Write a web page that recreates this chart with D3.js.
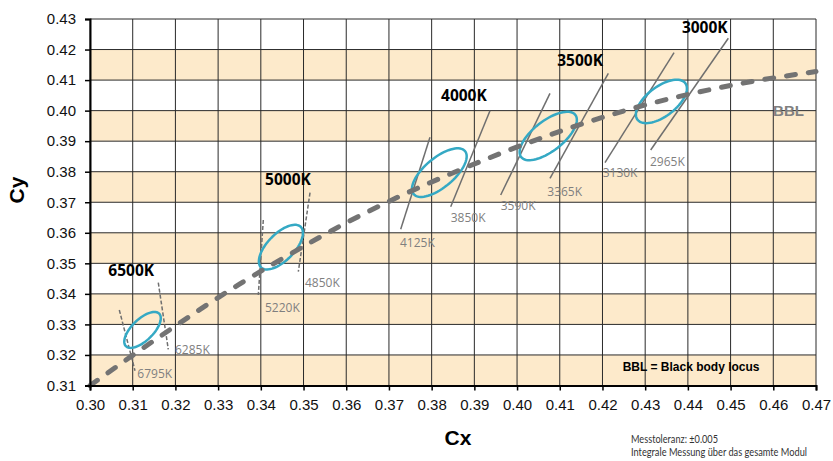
<!DOCTYPE html>
<html>
<head>
<meta charset="utf-8">
<script src="https://cdn.jsdelivr.net/npm/d3@7"></script>
<style>
  body { margin: 0; background: #fff; }
  svg { display: block; }
</style>
</head>
<body>
<script>
// axis ticks
const xTicks = [0.30, 0.31, 0.32, 0.33, 0.34, 0.35, 0.36, 0.37, 0.38, 0.39, 0.40, 0.41, 0.42, 0.43, 0.44, 0.45, 0.46, 0.47];
const yTicks = [0.31, 0.32, 0.33, 0.34, 0.35, 0.36, 0.37, 0.38, 0.39, 0.40, 0.41, 0.42, 0.43];
// lower edges of the shaded bands
const bandStarts = [0.31, 0.33, 0.35, 0.37, 0.39, 0.41];

// black body locus
const bblX = [0.300, 0.318, 0.335, 0.345, 0.361, 0.372, 0.387, 0.407, 0.428, 0.451, 0.470];
const bblY = [0.310, 0.3276, 0.3432, 0.3515, 0.3640, 0.3716, 0.3808, 0.3917, 0.4011, 0.4085, 0.4128];

// tolerance ellipses (centre, semi axes, angle in degrees)
const ellipseNames = ["6500K", "5000K", "4000K", "3500K", "3000K"];
const ellipseCx = [0.3123, 0.3447, 0.3818, 0.4073, 0.4338];
const ellipseCy = [0.3282, 0.3553, 0.3797, 0.3917, 0.4030];
const ellipseA = [0.00669, 0.00822, 0.00939, 0.00951, 0.00834];
const ellipseB = [0.00285, 0.00354, 0.00402, 0.00417, 0.00408];
const ellipseAngle = [58.23, 59.62, 54.00, 52.12, 53.13];
// where the big CCT labels sit
const nameX = [0.3043, 0.3410, 0.3822, 0.4094, 0.4386];
const nameY = [0.3460, 0.3755, 0.4033, 0.4146, 0.4254];

// isotherm lines bounding each ellipse
const isoLabels = ["6795K", "6285K", "5220K", "4850K", "4125K", "3850K", "3590K", "3365K", "3130K", "2965K"];
const isoX1 = [0.30686, 0.31599, 0.34058, 0.35152, 0.37961, 0.39366, 0.40771, 0.42137, 0.43676, 0.44947];
const isoY1 = [0.33472, 0.34365, 0.36418, 0.37312, 0.39126, 0.39997, 0.40567, 0.41222, 0.41897, 0.42368];
const isoX2 = [0.31054, 0.31833, 0.33941, 0.34878, 0.37275, 0.38446, 0.39617, 0.40771, 0.42059, 0.43129];
const isoY2 = [0.31484, 0.32185, 0.33963, 0.34726, 0.36114, 0.36854, 0.37237, 0.37784, 0.38295, 0.38711];
const isoDashed = [true, true, true, true, false, false, false, false, false, false];
const isoLabelX = [0.31108, 0.31990, 0.34098, 0.35034, 0.37259, 0.38446, 0.39617, 0.40708, 0.42005, 0.43113];
const isoLabelY = [0.31245, 0.32031, 0.33407, 0.34225, 0.35535, 0.36353, 0.36746, 0.37205, 0.37827, 0.38187];

const bblLabel = { text: "BBL", x: 0.45995, y: 0.39824 };

const W = 833, H = 461;
const margin = { left: 90, top: 19, right: 17, bottom: 75.5 };

const svg = d3.select("body").append("svg")
    .attr("width", W)
    .attr("height", H);

const x = d3.scaleLinear().domain([0.30, 0.47]).range([margin.left, W - margin.right]);
const y = d3.scaleLinear().domain([0.31, 0.43]).range([H - margin.bottom, margin.top]);

// shaded bands
svg.append("g")
    .selectAll("rect")
    .data(bandStarts)
    .join("rect")
    .attr("x", x(0.30))
    .attr("width", x(0.47) - x(0.30))
    .attr("y", d => y(d + 0.01))
    .attr("height", d => y(d) - y(d + 0.01))
    .attr("fill", "#fdeacb");

// grid
const grid = svg.append("g").attr("stroke", "#2a2a2a").attr("stroke-width", 1);
grid.selectAll("line.v")
    .data(xTicks)
    .join("line")
    .attr("class", "v")
    .attr("x1", d => x(d)).attr("x2", d => x(d))
    .attr("y1", y(0.31)).attr("y2", y(0.43));
grid.selectAll("line.h")
    .data(yTicks)
    .join("line")
    .attr("class", "h")
    .attr("x1", x(0.30)).attr("x2", x(0.47))
    .attr("y1", d => y(d)).attr("y2", d => y(d));

// isotherms
svg.append("g")
    .selectAll("line")
    .data(isoLabels.map((d, i) => i))
    .join("line")
    .attr("x1", i => x(isoX1[i])).attr("y1", i => y(isoY1[i]))
    .attr("x2", i => x(isoX2[i])).attr("y2", i => y(isoY2[i]))
    .attr("stroke", "#6f6f6f")
    .attr("stroke-width", 1.5)
    .attr("stroke-dasharray", i => isoDashed[i] ? "4,2" : null);

svg.append("g")
    .selectAll("text")
    .data(isoLabels)
    .join("text")
    .attr("x", (d, i) => x(isoLabelX[i]))
    .attr("y", (d, i) => y(isoLabelY[i]))
    .attr("font-family", "'Open Sans', sans-serif")
    .attr("font-size", 12)
    .attr("fill", "#7f7f7f")
    .text(d => d);

// ellipses
const ellipseLine = d3.line().x(p => x(p[0])).y(p => y(p[1])).curve(d3.curveLinearClosed);
const ellipsePoints = i => {
    const th = ellipseAngle[i] * Math.PI / 180;
    return d3.range(0, 72).map(k => {
        const t = k / 72 * 2 * Math.PI;
        return [
            ellipseCx[i] + ellipseA[i] * Math.cos(t) * Math.cos(th) - ellipseB[i] * Math.sin(t) * Math.sin(th),
            ellipseCy[i] + ellipseA[i] * Math.cos(t) * Math.sin(th) + ellipseB[i] * Math.sin(t) * Math.cos(th)
        ];
    });
};
svg.append("g")
    .selectAll("path")
    .data(ellipseNames.map((d, i) => i))
    .join("path")
    .attr("d", i => ellipseLine(ellipsePoints(i)))
    .attr("fill", "none")
    .attr("stroke", "#35a9c4")
    .attr("stroke-width", 2.5);

// black body locus
const bbl = d3.line()
    .x(d => x(d[0]))
    .y(d => y(d[1]))
    .curve(d3.curveMonotoneX);
svg.append("path")
    .datum(bblX.map((d, i) => [d, bblY[i]]))
    .attr("d", bbl)
    .attr("fill", "none")
    .attr("stroke", "#737373")
    .attr("stroke-width", 5)
    .attr("stroke-linecap", "round")
    .attr("stroke-dasharray", "9,13");

// big CCT labels
svg.append("g")
    .selectAll("text")
    .data(ellipseNames)
    .join("text")
    .attr("x", (d, i) => x(nameX[i]))
    .attr("y", (d, i) => y(nameY[i]))
    .attr("font-family", "'Open Sans', sans-serif")
    .attr("font-weight", "bold")
    .attr("font-size", 15.5)
    .attr("fill", "#000")
    .text(d => d);

svg.append("text")
    .attr("x", x(bblLabel.x))
    .attr("y", y(bblLabel.y))
    .attr("font-family", "'Liberation Sans', Arial, sans-serif")
    .attr("font-weight", "bold")
    .attr("font-size", 15)
    .attr("fill", "#808080")
    .text(bblLabel.text);

svg.append("text")
    .attr("x", 622.7)
    .attr("y", 370.5)
    .attr("font-family", "'Liberation Sans', Arial, sans-serif")
    .attr("font-weight", "bold")
    .attr("font-size", 12)
    .attr("fill", "#000")
    .text("BBL = Black body locus");

// axes
const yAxis = svg.append("g")
    .attr("transform", `translate(${margin.left},0)`)
    .call(d3.axisLeft(y).tickValues(yTicks).tickFormat(d3.format(".2f")).tickSize(5).tickPadding(9));
const xAxis = svg.append("g")
    .attr("transform", `translate(0,${H - margin.bottom})`)
    .call(d3.axisBottom(x).tickValues(xTicks).tickFormat(d3.format(".2f")).tickSize(5).tickPadding(8.5));

[xAxis, yAxis].forEach(g => {
    g.select(".domain").attr("stroke", "#000").attr("stroke-width", 2);
    g.selectAll(".tick line").attr("stroke", "#000").attr("stroke-width", 1.5);
    g.selectAll(".tick text")
        .attr("font-family", "'Liberation Sans', Arial, sans-serif")
        .attr("font-size", 15)
        .attr("fill", "#111");
});

// axis titles
svg.append("text")
    .attr("x", 458)
    .attr("y", 444.5)
    .attr("text-anchor", "middle")
    .attr("font-family", "'Liberation Sans', Arial, sans-serif")
    .attr("font-weight", "bold")
    .attr("font-size", 21)
    .text("Cx");

svg.append("text")
    .attr("transform", "translate(24,190) rotate(-90)")
    .attr("text-anchor", "middle")
    .attr("font-family", "'Liberation Sans', Arial, sans-serif")
    .attr("font-weight", "bold")
    .attr("font-size", 21)
    .text("Cy");

// footnote
const note = svg.append("g")
    .attr("font-family", "Lato, sans-serif")
    .attr("font-size", 10.5)
    .attr("fill", "#333");
note.append("text").attr("x", 631).attr("y", 443)
    .attr("textLength", 87).attr("lengthAdjust", "spacingAndGlyphs")
    .text("Messtoleranz: ±0.005");
note.append("text").attr("x", 631).attr("y", 456)
    .attr("textLength", 176).attr("lengthAdjust", "spacingAndGlyphs")
    .text("Integrale Messung über das gesamte Modul");
</script>
</body>
</html>
